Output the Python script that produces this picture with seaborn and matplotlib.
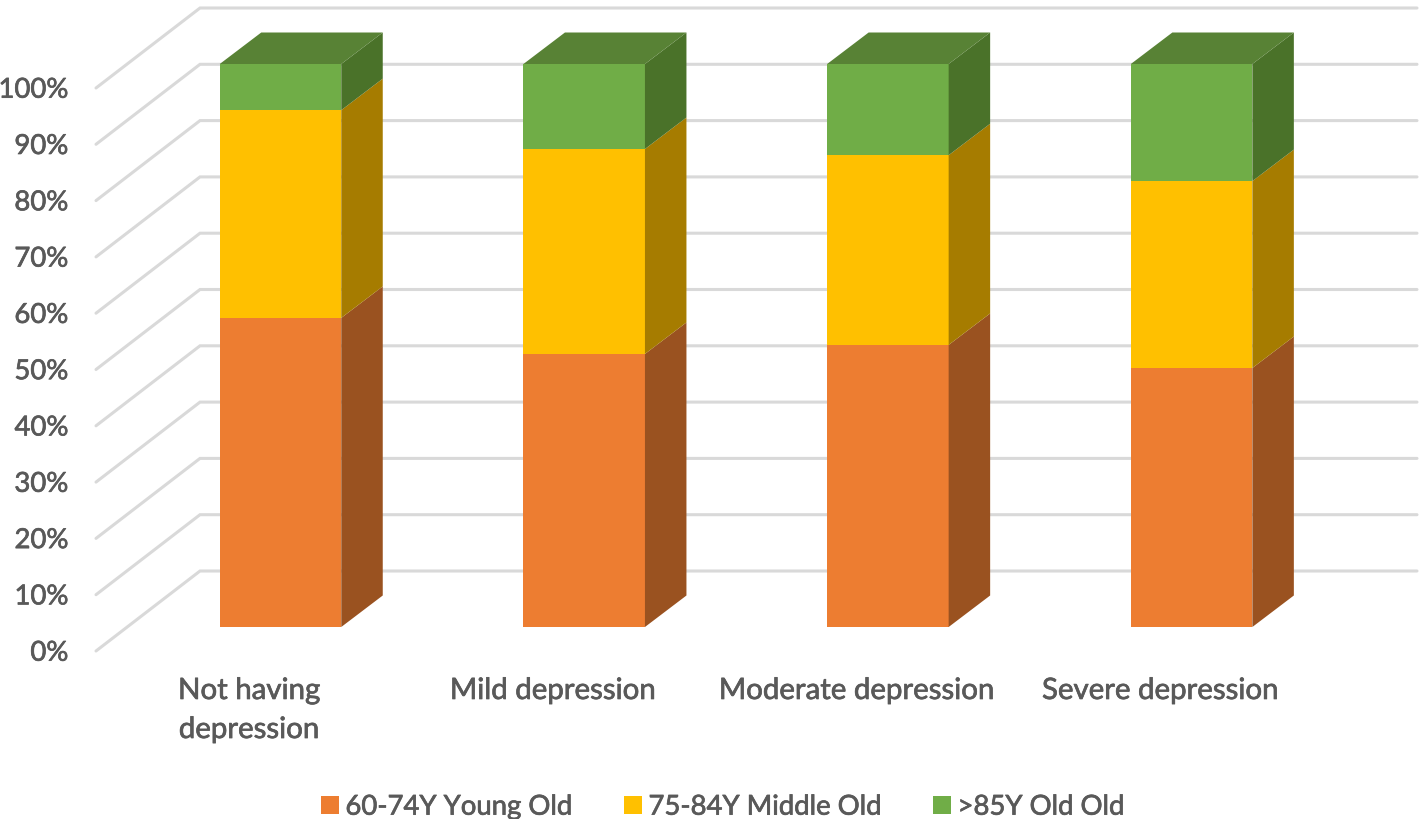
import matplotlib
matplotlib.use("Agg")
import matplotlib.pyplot as plt
import matplotlib.patheffects as pe
from matplotlib.patches import Patch, Polygon
import seaborn as sns
import pandas as pd

categories = ["Not having\ndepression", "Mild depression", "Moderate depression", "Severe depression"]
young_old = [54.9, 48.5, 50.1, 46.0]
middle_old = [36.9, 36.4, 33.7, 33.2]
old_old = [8.2, 15.1, 16.2, 20.8]
series_names = ["60-74Y Young Old", "75-84Y Middle Old", ">85Y Old Old"]
tick_values = [0, 10, 20, 30, 40, 50, 60, 70, 80, 90, 100]

front_colors = ["#ED7D31", "#FFC000", "#70AD47"]
side_colors = ["#9A5220", "#A67C00", "#4A7229"]
top_color = "#588235"
grid_color = "#D9D9D9"
text_color = "#595959"

# picture scale of the front plane
PX_PER_CAT = 303.7
PX_PER_PCT = 5.63
X0_PX = 280.5
Y0_PX = 628


def xd(px):
    return (px - X0_PX) / PX_PER_CAT


def yd(py):
    return (Y0_PX - py) / PX_PER_PCT


sns.set_theme(style="white")
plt.rcParams["font.family"] = ["Lato", "DejaVu Sans"]

fig, ax = plt.subplots(figsize=(14.24, 8.2), dpi=100)
ax.set_position([0, 0, 1, 1])

# text in the reference is heavier than Lato regular
heavier = [pe.withStroke(linewidth=0.5, foreground=text_color)]

# depth of the bars and of the floor, in data units
bar_dx = 41.5 / PX_PER_CAT
bar_dy = 31.5 / PX_PER_PCT
floor_dx = 104 / PX_PER_CAT
floor_dy = 80 / PX_PER_PCT
wall_left = xd(200)
wall_right = xd(1417)
wall_lift = (628 - 572) / PX_PER_PCT

for v in tick_values:
    y = v + wall_lift
    ax.plot([wall_left - floor_dx, wall_left, wall_right], [y - floor_dy, y, y],
            color=grid_color, lw=2.2, solid_joinstyle="miter", zorder=1)
    ax.text(xd(68.5), y - floor_dy - 0.3, f"{v}%", ha="right", va="center",
            fontsize=19.8, color=text_color, path_effects=heavier)

df = pd.DataFrame({"category": categories, "young": young_old, "middle": middle_old, "old": old_old})
df["c1"] = df["young"]
df["c2"] = df["young"] + df["middle"]
df["c3"] = df["c2"] + df["old"]

# stacked front faces: tallest first, then the lower ones over it
width = 121.5 / PX_PER_CAT
for col, color in zip(["c3", "c2", "c1"], front_colors[::-1]):
    sns.barplot(data=df, x="category", y=col, color=color, saturation=1, width=width,
                linewidth=0, ax=ax, zorder=3, errorbar=None)

for i in range(len(categories)):
    right = i + width / 2
    left = i - width / 2
    lows = [0, df["c1"][i], df["c2"][i]]
    highs = [df["c1"][i], df["c2"][i], df["c3"][i]]
    for low, high, color in zip(lows, highs, side_colors):
        ax.add_patch(Polygon([(right, low), (right + bar_dx, low + bar_dy),
                              (right + bar_dx, high + bar_dy), (right, high)],
                             facecolor=color, edgecolor="none", zorder=3))
    top = highs[-1]
    ax.add_patch(Polygon([(left, top), (left + bar_dx, top + bar_dy),
                          (right + bar_dx, top + bar_dy), (right, top)],
                         facecolor=top_color, edgecolor="none", zorder=3))
    ax.text(i - 31.5 / PX_PER_CAT, yd(679), categories[i], ha="center", va="top",
            fontsize=21.2, color=text_color, linespacing=1.62, path_effects=heavier)

ax.set_xlim(xd(0), xd(1424))
ax.set_ylim(yd(820), yd(0))
ax.set_axis_off()

handles = [Patch(facecolor=c, edgecolor="none") for c in front_colors]
legend = fig.legend(handles, series_names, loc="lower center", bbox_to_anchor=(0.5074, -0.031), ncol=3,
                    frameon=False, fontsize=19.8, labelcolor=text_color, handlelength=0.65,
                    handleheight=0.65, handletextpad=0.24, columnspacing=1.885)
for label in legend.get_texts():
    label.set_path_effects(heavier)

fig.savefig("out.png", dpi=100)
